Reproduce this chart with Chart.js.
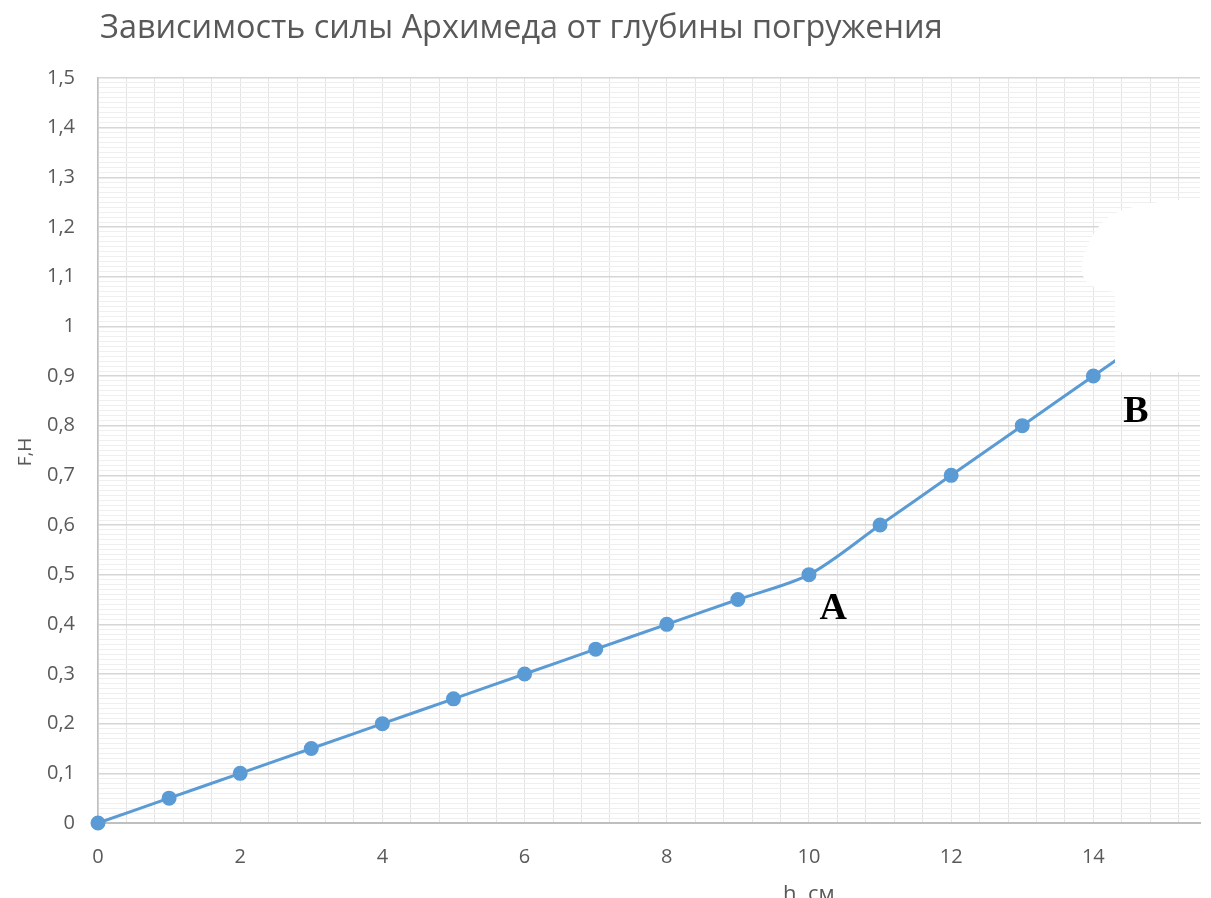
<!DOCTYPE html>
<html>
<head>
<meta charset="utf-8">
<script src="https://cdn.jsdelivr.net/npm/chart.js@4/dist/chart.umd.min.js"></script>
<style>
  html, body { margin: 0; padding: 0; background: #fff; }
  #wrap { width: 1211px; height: 898px; }
</style>
</head>
<body>
<div id="wrap"><canvas id="myChart"></canvas></div>
<script>
const titleText = 'Зависимость силы Архимеда от глубины погружения'
const xTitle = 'h, см'
const yTitle = 'F,H'
const depth = [0, 1, 2, 3, 4, 5, 6, 7, 8, 9, 10, 11, 12, 13, 14, 15]
const force = [0, 0.05, 0.1, 0.15, 0.2, 0.25, 0.3, 0.35, 0.4, 0.45, 0.5, 0.6, 0.7, 0.8, 0.9, 1.0]
const pointLabels = [
    { text: 'A', x: 10.34, y: 0.43 },
    { text: 'B', x: 14.6, y: 0.827 }
]

const grey = '#595959'
const lineBlue = '#5b9bd5'

const isMultiple = (v, step) => Math.abs(v / step - Math.round(v / step)) < 1e-6

const fmt = (v) => {
    if (isMultiple(v, 1)) return String(Math.round(v))
    return v.toFixed(1).replace('.', ',')
}

// titles, A/B marks and the white patch in the top right corner
const extras = {
    id: 'extras',
    afterDraw(chart) {
        const { ctx, scales } = chart
        ctx.save()
        ctx.fillStyle = grey
        ctx.font = '30px "Open Sans"'
        // fit title to the width it takes in the original (x 100 -> 943)
        const size = 30 * 843 / ctx.measureText(titleText).width
        ctx.font = size.toFixed(1) + 'px "Open Sans"'
        ctx.textBaseline = 'alphabetic'
        ctx.textAlign = 'left'
        ctx.fillText(titleText, 100, 38)

        ctx.font = '22px "Open Sans"'
        ctx.textAlign = 'left'
        ctx.fillText(xTitle, 783, 901)

        ctx.save()
        ctx.translate(26, 452)
        ctx.rotate(-Math.PI / 2)
        ctx.font = '19px "Open Sans"'
        ctx.textAlign = 'center'
        ctx.textBaseline = 'middle'
        ctx.fillText(yTitle, 0, 0)
        ctx.restore()

        ctx.fillStyle = '#000'
        ctx.font = 'bold 38px "Liberation Serif"'
        ctx.textAlign = 'center'
        ctx.textBaseline = 'middle'
        pointLabels.forEach(p => {
            ctx.fillText(p.text, scales.x.getPixelForValue(p.x), scales.y.getPixelForValue(p.y))
        })

        // erased patch
        ctx.fillStyle = '#fff'
        ctx.beginPath()
        ctx.moveTo(1113, 214)
        ctx.bezierCurveTo(1140, 202, 1180, 198, 1211, 200)
        ctx.lineTo(1211, 372)
        ctx.lineTo(1120, 372)
        ctx.lineTo(1115, 362)
        ctx.lineTo(1115, 292)
        ctx.bezierCurveTo(1100, 290, 1082, 286, 1082, 270)
        ctx.bezierCurveTo(1082, 250, 1095, 225, 1113, 214)
        ctx.closePath()
        ctx.fill()
        ctx.restore()
    }
}

const ctx = document.getElementById('myChart')
new Chart(ctx, {
    type: 'line',
    data: {
        datasets: [
            {
                data: depth.map((h, i) => ({ x: h, y: force[i] })),
                borderColor: lineBlue,
                backgroundColor: lineBlue,
                borderWidth: 3,
                pointRadius: 6,
                pointHoverRadius: 6,
                tension: 0.3,
                clip: false
            }
        ]
    },
    options: {
        responsive: true,
        maintainAspectRatio: false,
        animation: false,
        layout: { padding: { top: 78, right: 11, left: 0, bottom: 0 } },
        plugins: {
            legend: { display: false },
            tooltip: { enabled: false },
            title: { display: false }
        },
        scales: {
            x: {
                type: 'linear',
                min: 0,
                max: 15.5,
                afterBuildTicks: (scale) => {
                    const t = []
                    for (let i = 0; i * 0.4 <= 15.5 + 1e-9; i++) t.push({ value: Math.round(i * 4) / 10 })
                    scale.ticks = t
                },
                afterFit: (scale) => { scale.height = 75 },
                grid: { color: '#e4e4e4', lineWidth: 1, drawTicks: false },
                border: { color: '#bfbfbf', width: 2 },
                ticks: {
                    autoSkip: false,
                    maxRotation: 0,
                    padding: 22,
                    color: grey,
                    font: { family: 'Open Sans', size: 20 },
                    callback: (v) => (isMultiple(v, 2) ? fmt(v) : '')
                }
            },
            y: {
                type: 'linear',
                min: 0,
                max: 1.5,
                afterBuildTicks: (scale) => {
                    const t = []
                    for (let i = 0; i <= 150; i++) t.push({ value: i / 100 })
                    scale.ticks = t
                },
                afterFit: (scale) => { scale.width = 98 },
                grid: {
                    drawTicks: false,
                    color: (c) => (isMultiple(c.tick.value, 0.1) ? '#d6d6d6' : '#efefef'),
                    lineWidth: (c) => (isMultiple(c.tick.value, 0.1) ? 1.5 : 1)
                },
                border: { color: '#bfbfbf', width: 1.5 },
                ticks: {
                    autoSkip: false,
                    padding: 23,
                    color: grey,
                    font: { family: 'Open Sans', size: 20 },
                    callback: (v) => (isMultiple(v, 0.1) ? fmt(v) : '')
                }
            }
        }
    },
    plugins: [extras]
})
</script>
</body>
</html>
